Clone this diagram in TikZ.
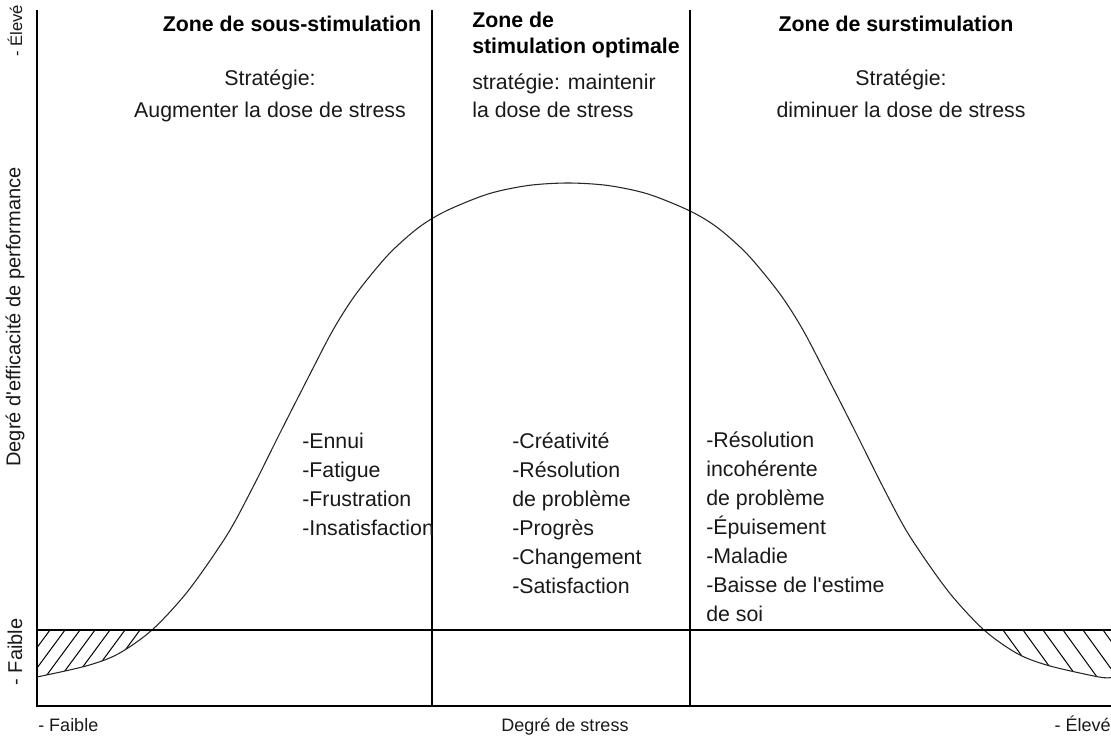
\documentclass[tikz,border=0pt]{standalone}
\usepackage{fontspec}
\setmainfont{Liberation Sans}[Ligatures=TeXOff]
\begin{document}
\begin{tikzpicture}[x=0.75pt,y=-0.75pt,
  axis/.style={line width=1.1pt,black},
  curveline/.style={line width=0.8pt,black!85},
  hatchline/.style={line width=0.75pt,black},
  bigtxt/.style={inner sep=0pt,font={\fontsize{16}{21.75}\selectfont},text=black!90},
  titletxt/.style={inner sep=0pt,font={\fontsize{16}{19.5}\selectfont\bfseries},text=black},
  axtxt/.style={inner sep=0pt,font={\fontsize{13.5}{16}\selectfont},text=black!90}]
\useasboundingbox (0,0) rectangle (1111,737);
% hatching
\begin{scope}
\clip plot[smooth] coordinates {(37,677) (86,666) (118,654) (152,630) (188,591) (227,535) (253,487) (280,433) (308,378) (333,330) (356,294) (388,255) (418,228) (446,211) (488,194) (528,185.5) (568,183) (608,185.5) (648,194) (690,211) (718,228) (748,255) (780,294) (803,330) (828,378) (856,433) (883,487) (909,535) (948,591) (984,630) (1018,654) (1050,666) (1099,677) (1111,677.5)} -- (1111,0) -- (37,0) -- cycle;
\clip (37,630) rectangle (1111,706);
\foreach \k in {-3,...,7} \draw[hatchline] (50+15*\k,630) -- (-6+15*\k,706);
\foreach \k in {-2,...,6} \draw[hatchline] (1003+20*\k,630) -- (1058+20*\k,706);
\end{scope}
% curve
\draw[curveline] plot[smooth] coordinates {(37,677) (86,666) (118,654) (152,630) (188,591) (227,535) (253,487) (280,433) (308,378) (333,330) (356,294) (388,255) (418,228) (446,211) (488,194) (528,185.5) (568,183) (608,185.5) (648,194) (690,211) (718,228) (748,255) (780,294) (803,330) (828,378) (856,433) (883,487) (909,535) (948,591) (984,630) (1018,654) (1050,666) (1099,677) (1111,677.5)};
% axes and lines
\coordinate (ytop) at (37,10);
\coordinate (origin) at (37,706);
\coordinate (xend) at (1111,706);
\coordinate (lowL) at (37,630);
\coordinate (lowR) at (1111,630);
\coordinate (v1t) at (432,10);
\coordinate (v1b) at (432,706);
\coordinate (v2t) at (690,10);
\coordinate (v2b) at (690,706);
\draw[axis] (ytop) -- (origin) -- (xend);
\draw[axis] (lowL) -- (lowR);
\draw[axis] (v1t) -- (v1b);
\draw[axis] (v2t) -- (v2b);
% titles
\node[titletxt,anchor=base] (t1) at (292,32) {Zone de sous-stimulation};
\node[titletxt,anchor=north west,align=left] (t2) at (472,12) {Zone de\\stimulation optimale};
\node[titletxt,anchor=base] (t3) at (896,32) {Zone de surstimulation};
% strategies
\node[bigtxt,anchor=north,align=center,font={\fontsize{16}{24}\selectfont}] (s1) at (270,70) {Stratégie:\\Augmenter la dose de stress};
\node[bigtxt,anchor=north west,align=left,font={\fontsize{16}{21}\selectfont}] (s2) at (472,74) {stratégie: maintenir\\la dose de stress};
\node[bigtxt,anchor=north,align=center,font={\fontsize{16}{24}\selectfont}] (s3) at (901,70) {Stratégie:\\diminuer la dose de stress};
% lists
\node[bigtxt,anchor=north west,align=left] (l1) at (302,433) {-Ennui\\-Fatigue\\-Frustration\\-Insatisfaction};
\node[bigtxt,anchor=north west,align=left] (l2) at (512,433) {-Créativité\\-Résolution\\de problème\\-Progrès\\-Changement\\-Satisfaction};
\node[bigtxt,anchor=north west,align=left] (l3) at (706,432) {-Résolution\\incohérente\\de problème\\-Épuisement\\-Maladie\\-Baisse de l'estime\\de soi};
% axis labels
\node[axtxt,rotate=90,font={\fontsize{12.5}{15}\selectfont}] (yhi) at (15,31) {- Élevé};
\node[axtxt,rotate=90,font={\fontsize{15}{18}\selectfont}] (ylab) at (15,317) {Degré d'efficacité de performance};
\node[axtxt,rotate=90,font={\fontsize{15}{18}\selectfont}] (ylo) at (15,652) {- Faible};
\node[axtxt,anchor=base west] (xlo) at (38,731) {- Faible};
\node[axtxt,anchor=base] (xlab) at (565,731) {Degré de stress};
\node[axtxt,anchor=base east] (xhi) at (1111,731) {- Élevé};
\end{tikzpicture}
\end{document}
